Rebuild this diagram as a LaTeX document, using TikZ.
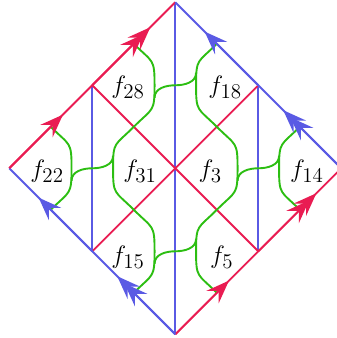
\documentclass[tikz,border=0pt]{standalone}
\usetikzlibrary{arrows.meta}
\definecolor{EdgeRed}{HTML}{E91C52}
\definecolor{EdgeBlue}{HTML}{5A5AE4}
\definecolor{ZigGreen}{HTML}{2CBE12}
\tikzset{
  redln/.style={EdgeRed,line width=1.3pt},
  blueln/.style={EdgeBlue,line width=1.3pt},
  zig/.style={ZigGreen,line width=1.3pt,looseness=1.5},
  sglarr/.style={-{Stealth[length=16pt,width=12pt,inset=6pt]},shorten >=1.0cm},
  dblarr/.style={-{Stealth[length=16pt,width=12pt,inset=6pt,sep=-9pt]Stealth[length=16pt,width=12pt,inset=6pt]},shorten >=0.85cm},
}
\newcommand{\FaceLbl}[3]{%
  \node[font=\fontsize{19}{23}\selectfont,inner sep=0pt] (#1) at (#2) {$#3$};%
}

\begin{document}
\begin{tikzpicture}[x=1cm,y=1cm]
\useasboundingbox (-4.224,-4.089) rectangle (3.872,4.055);
\coordinate (T) at (0,4);
\coordinate (B) at (0,-4);
\coordinate (L) at (-4,0);
\coordinate (R) at (4,0);
\coordinate (UL) at (-2,2);
\coordinate (UR) at (2,2);
\coordinate (LL) at (-2,-2);
\coordinate (LR) at (2,-2);
% inner lines
\foreach \a/\b in {T/B,UL/LL,UR/LR}
  \draw[blueln] (\a) -- (\b);
\foreach \a/\b in {UL/LR,UR/LL}
  \draw[redln] (\a) -- (\b);
% green paths
\draw[zig] (-3,1) to[out=-45,in=90] (-2.5,0) to[out=-90,in=45] (-3,-1);
\draw[zig] (3,1) to[out=-135,in=90] (2.5,0) to[out=-90,in=135] (3,-1);
\draw[zig] (-1,3) to[out=-45,in=90] (-0.5,2) to[out=-90,in=45] (-1,1)
  to[out=-135,in=90] (-1.5,0) to[out=-90,in=135] (-1,-1)
  to[out=-45,in=90] (-0.5,-2) to[out=-90,in=45] (-1,-3);
\draw[zig] (1,3) to[out=-135,in=90] (0.5,2) to[out=-90,in=135] (1,1)
  to[out=-45,in=90] (1.5,0) to[out=-90,in=45] (1,-1)
  to[out=-135,in=90] (0.5,-2) to[out=-90,in=135] (1,-3);
\foreach \x/\y in {-2/0,0/2,0/-2,2/0}
  \draw[zig,looseness=1] (\x-0.5,\y-0.3) to[out=90,in=180] (\x,\y) to[out=0,in=-90] (\x+0.5,\y+0.3);
% boundary
\draw[redln] (L) -- (T);
\draw[blueln] (R) -- (T);
\draw[redln] (B) -- (R);
\draw[blueln] (B) -- (L);
\draw[redln,sglarr] (L) -- (UL);
\draw[redln,dblarr] (UL) -- (T);
\draw[blueln,dblarr] (R) -- (UR);
\draw[blueln,sglarr] (UR) -- (T);
\draw[redln,sglarr] (B) -- (LR);
\draw[redln,dblarr] (LR) -- (R);
\draw[blueln,dblarr] (B) -- (LL);
\draw[blueln,sglarr] (LL) -- (L);
% faces
\FaceLbl{f22}{-3.09,-0.07}{f_{22}}
\FaceLbl{f31}{-0.85,-0.07}{f_{31}}
\FaceLbl{f3}{0.84,-0.07}{f_{3}}
\FaceLbl{f14}{3.17,-0.07}{f_{14}}
\FaceLbl{f28}{-1.14,1.95}{f_{28}}
\FaceLbl{f18}{1.20,1.95}{f_{18}}
\FaceLbl{f15}{-1.14,-2.14}{f_{15}}
\FaceLbl{f5}{1.12,-2.14}{f_{5}}
\end{tikzpicture}
\end{document}
